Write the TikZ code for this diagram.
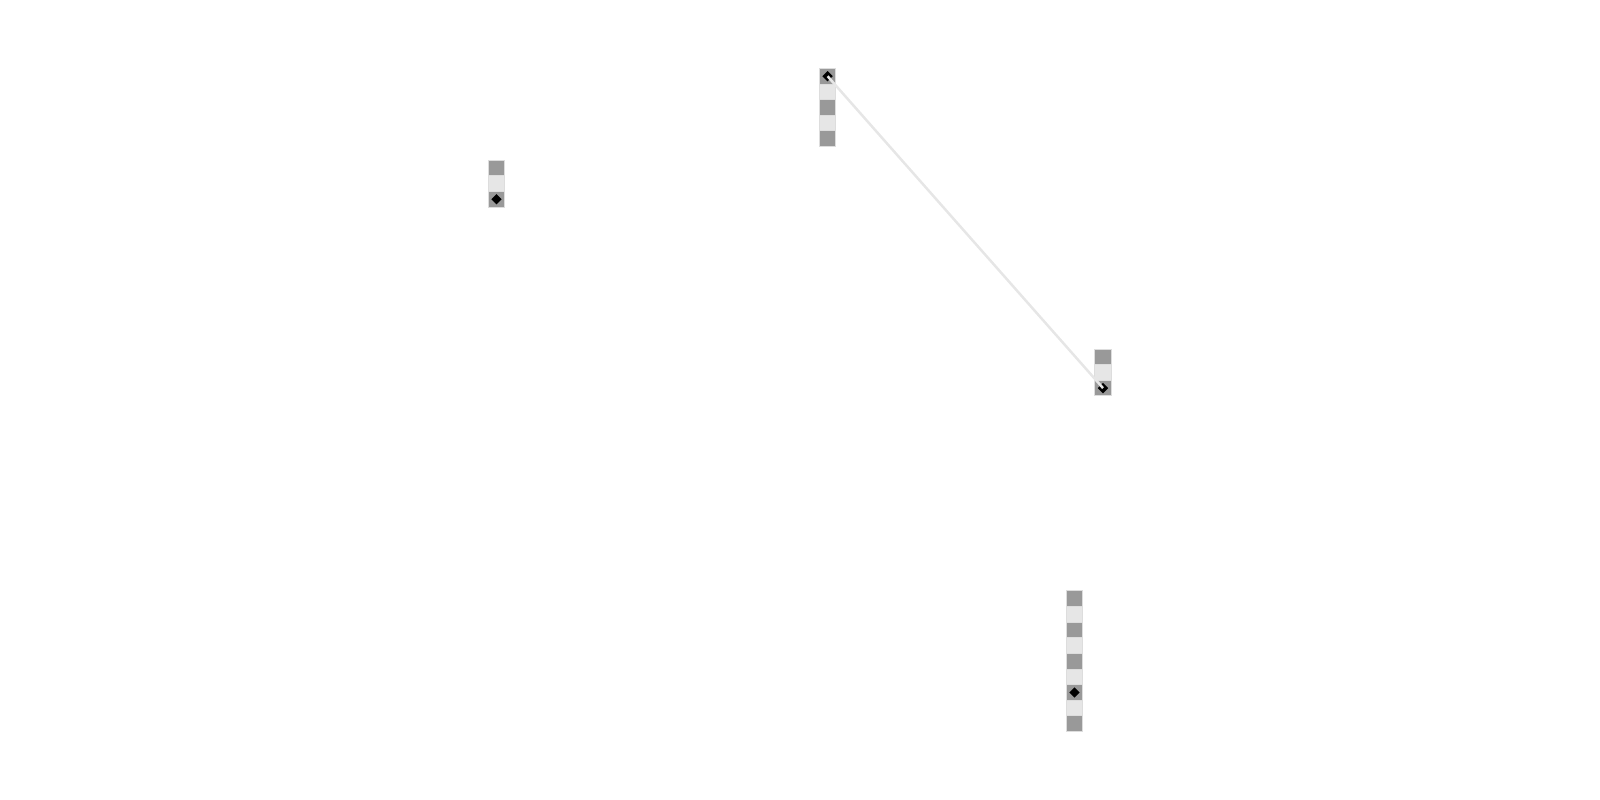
\documentclass[tikz,border=0pt]{standalone}
\usetikzlibrary{shapes.geometric}
\definecolor{celldark}{HTML}{999999}
\definecolor{celllight}{HTML}{E6E6E6}
\definecolor{cellrim}{HTML}{DDDDDD}
\tikzset{
  cell/.style={draw=cellrim,line width=1pt,minimum width=16.5pt,minimum height=15.64pt,inner sep=0pt,outer sep=0pt},
  darkcell/.style={cell,fill=celldark},
  lightcell/.style={cell,fill=celllight},
  gem/.style={diamond,fill=black,inner sep=0pt,minimum width=10.5pt,minimum height=10.5pt},
  link/.style={draw=celllight,line width=2.5pt}
}
\begin{document}
\begin{tikzpicture}[x=1pt,y=-1pt]
\useasboundingbox (0,0) rectangle (1600,800);

% strips of cells
\foreach \s/\x/\y/\n in {a/827.6/68.4/5,b/1103/349/3,c/496.5/160.2/3,d/1074.5/590.8/9}{
  \foreach \i in {1,...,\n}{
    \pgfmathsetmacro\cy{\y+15.64*(\i-0.5)}
    \ifodd\i \def\kind{darkcell}\else\def\kind{lightcell}\fi
    \node[\kind] (\s\i) at (\x,\cy) {};
  }
}

% marked cells
\node[gem] (ga) at (a1) {};
\node[gem] (gb) at (b3) {};
\node[gem] (gc) at (c3) {};
\node[gem] (gd) at (d7) {};

\draw[link] (ga.center) -- (gb.center);
\end{tikzpicture}
\end{document}
